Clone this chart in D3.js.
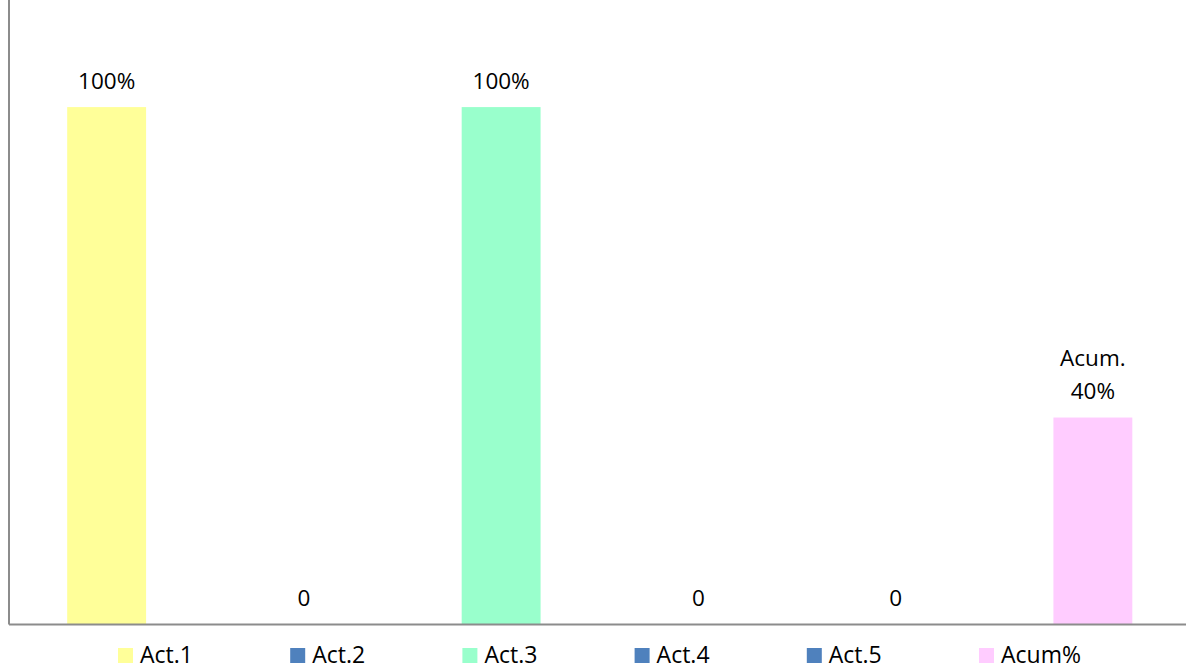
<!DOCTYPE html>
<html><head><meta charset="utf-8">
<script src="https://cdn.jsdelivr.net/npm/d3@7"></script>
<style>body{margin:0;background:#fff}svg{display:block}text{font-family:"Open Sans","Liberation Sans",sans-serif}</style>
</head><body>
<svg id="c" width="1186" height="670"></svg>
<script>
const categories = ["Act.1","Act.2","Act.3","Act.4","Act.5","Acum%"];
const values = [1.0, 0, 1.0, 0, 0, 0.4];
const labels = [["100%"],["0"],["100%"],["0"],["0"],["Acum.","40%"]];
const colors = ["#FFFF99","#4F81BD","#99FFCC","#4F81BD","#4F81BD","#FFCCFF"];

const svg = d3.select("#c");
const left = 9, right = 1190.5, bottom = 624.5;
const x = d3.scaleBand().domain(categories).range([left, right]).paddingInner(0.6).paddingOuter(0.295);
const y = d3.scaleLinear().domain([0, 1.2]).range([bottom, 3.6]);

svg.selectAll("rect.bar").data(categories).join("rect").attr("class","bar")
  .attr("x", d => x(d)).attr("width", x.bandwidth())
  .attr("y", (d,i) => y(values[i])).attr("height", (d,i) => bottom - y(values[i]))
  .attr("fill", (d,i) => colors[i]);

// axes
const ax = svg.append("g").attr("transform", `translate(0,${bottom})`).call(d3.axisBottom(x).tickSize(0).tickFormat(""));
ax.select(".domain").attr("stroke","#8c8c8c").attr("stroke-width",2).attr("d",`M${left},0H1186`);
const ay = svg.append("g").attr("transform", `translate(${left},0)`).call(d3.axisLeft(y).tickSize(0).tickFormat(""));
ay.select(".domain").attr("stroke","#8c8c8c").attr("stroke-width",2).attr("d",`M0,0V${bottom}`);

// data labels
categories.forEach((c,i) => {
  const lines = labels[i];
  const t = svg.append("text").attr("text-anchor","middle").attr("font-size",22.5).attr("fill","#000");
  const baseY = y(values[i]) - 18.5;
  lines.forEach((l,j) => {
    t.append("tspan").attr("x", x(c) + x.bandwidth()/2).attr("y", baseY - (lines.length-1-j)*33).text(l);
  });
});

// legend
const lg = svg.append("g");
categories.forEach((c,i) => {
  const lx = 118 + i*172.2;
  lg.append("rect").attr("x", lx).attr("y", 648).attr("width",15).attr("height",15).attr("fill", colors[i]);
  lg.append("text").attr("x", lx+22).attr("y", 663).attr("font-size",23).attr("fill","#000").text(c);
});
</script>
</body></html>
